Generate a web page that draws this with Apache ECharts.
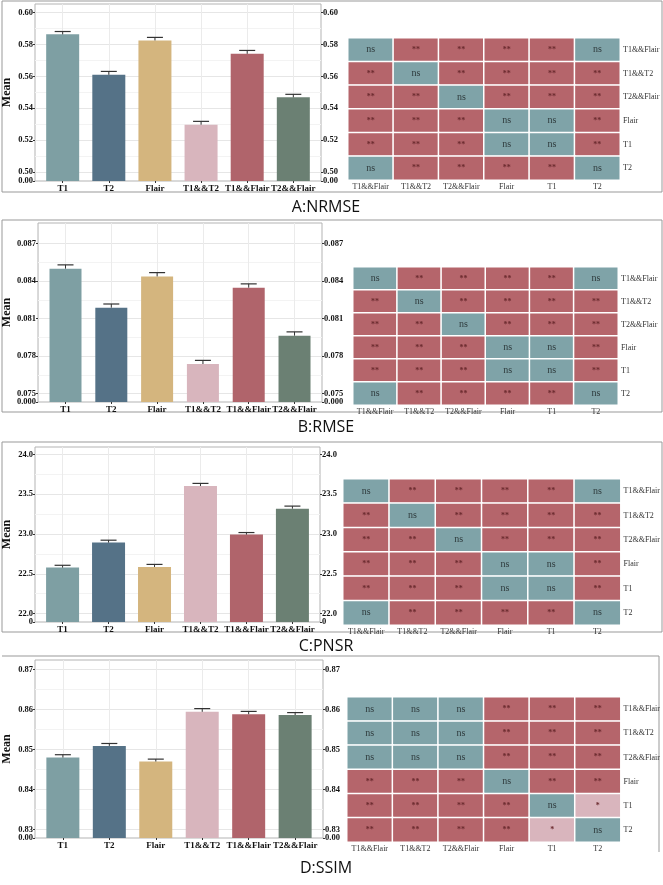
<!DOCTYPE html>
<html>
<head>
<meta charset="utf-8">
<script src="https://cdn.jsdelivr.net/npm/echarts@6.0.0/dist/echarts.min.js"></script>
<style>
html, body { margin: 0; padding: 0; background: #fff; }
#main { width: 663px; height: 885px; }
</style>
</head>
<body>
<div id="main"></div>
<script>
// groups on the bar charts, left to right
var groups = ['T1', 'T2', 'Flair', 'T1&&T2', 'T1&&Flair', 'T2&&Flair'];
var barColors = ['#7e9fa3', '#557287', '#d4b57e', '#d8b5bd', '#b0646b', '#6b8073'];

// A: NRMSE
var nrmseMean = [0.5864, 0.5610, 0.5826, 0.5296, 0.5742, 0.5468];
var nrmseErr = [0.0018, 0.0021, 0.0019, 0.0021, 0.0021, 0.0019];
var nrmseTicks = [0.50, 0.52, 0.54, 0.56, 0.58, 0.60];

// B: RMSE
var rmseMean = [0.08500, 0.08188, 0.08438, 0.07737, 0.08348, 0.07964];
var rmseErr = [0.00030, 0.00029, 0.00030, 0.00029, 0.00030, 0.00030];
var rmseTicks = [0.075, 0.078, 0.081, 0.084, 0.087];

// C: PSNR
var psnrMean = [22.578, 22.892, 22.586, 23.602, 22.992, 23.318];
var psnrErr = [0.029, 0.030, 0.032, 0.033, 0.026, 0.032];
var psnrTicks = [22.0, 22.5, 23.0, 23.5, 24.0];

// D: SSIM
var ssimMean = [0.8480, 0.8509, 0.8470, 0.8594, 0.8588, 0.8586];
var ssimErr = [0.0007, 0.0006, 0.0006, 0.0008, 0.0007, 0.0006];
var ssimTicks = [0.83, 0.84, 0.85, 0.86, 0.87];

// significance matrices: rows top to bottom, columns left to right
var pairOrder = ['T1&&Flair', 'T1&&T2', 'T2&&Flair', 'Flair', 'T1', 'T2'];
var sigLevels = ['ns', '*', '**'];
var sigColors = ['#7fa3a8', '#d9b5bd', '#b5656b'];
var sigNRMSE = [
    ['ns', '**', '**', '**', '**', 'ns'],
    ['**', 'ns', '**', '**', '**', '**'],
    ['**', '**', 'ns', '**', '**', '**'],
    ['**', '**', '**', 'ns', 'ns', '**'],
    ['**', '**', '**', 'ns', 'ns', '**'],
    ['ns', '**', '**', '**', '**', 'ns']
];
var sigRMSE = [
    ['ns', '**', '**', '**', '**', 'ns'],
    ['**', 'ns', '**', '**', '**', '**'],
    ['**', '**', 'ns', '**', '**', '**'],
    ['**', '**', '**', 'ns', 'ns', '**'],
    ['**', '**', '**', 'ns', 'ns', '**'],
    ['ns', '**', '**', '**', '**', 'ns']
];
var sigPSNR = [
    ['ns', '**', '**', '**', '**', 'ns'],
    ['**', 'ns', '**', '**', '**', '**'],
    ['**', '**', 'ns', '**', '**', '**'],
    ['**', '**', '**', 'ns', 'ns', '**'],
    ['**', '**', '**', 'ns', 'ns', '**'],
    ['ns', '**', '**', '**', '**', 'ns']
];
var sigSSIM = [
    ['ns', 'ns', 'ns', '**', '**', '**'],
    ['ns', 'ns', 'ns', '**', '**', '**'],
    ['ns', 'ns', 'ns', '**', '**', '**'],
    ['**', '**', '**', 'ns', '**', '**'],
    ['**', '**', '**', '**', 'ns', '*'],
    ['**', '**', '**', '**', '*', 'ns']
];

var panels = [
    { title: 'A:NRMSE', mean: nrmseMean, err: nrmseErr, ticks: nrmseTicks, dec: 2, zero: '0.00',
      min: 0.4942, max: 0.6055, sig: sigNRMSE,
      bar: { left: 33, top: 4, width: 288, height: 177 },
      hm: { left: 348, top: 38, width: 272, height: 142 },
      frame: [2, 1, 660, 191], titleY: 207 },
    { title: 'B:RMSE', mean: rmseMean, err: rmseErr, ticks: rmseTicks, dec: 3, zero: '0.000',
      min: 0.07433, max: 0.08865, sig: sigRMSE,
      bar: { left: 36, top: 223, width: 286, height: 179 },
      hm: { left: 353, top: 267, width: 265, height: 138 },
      frame: [2, 220, 660, 192], titleY: 427 },
    { title: 'C:PNSR', mean: psnrMean, err: psnrErr, ticks: psnrTicks, dec: 1, zero: '0',
      min: 21.895, max: 24.092, sig: sigPSNR,
      bar: { left: 32, top: 447, width: 288, height: 175 },
      hm: { left: 343, top: 479, width: 278, height: 146 },
      frame: [2, 442, 660, 190], titleY: 646 },
    { title: 'D:SSIM', mean: ssimMean, err: ssimErr, ticks: ssimTicks, dec: 2, zero: '0.00',
      min: 0.82793, max: 0.87232, sig: sigSSIM,
      bar: { left: 32, top: 660, width: 291, height: 178 },
      hm: { left: 347, top: 697, width: 278, height: 145 },
      frame: null, titleY: 868 }
];

var serif = '"Liberation Serif", "Times New Roman", serif';
var grids = [], xAxes = [], yAxes = [], series = [], graphics = [], hmSeries = [];

function tickLabel(extra) {
    return Object.assign({ margin: 2, color: '#111', fontFamily: serif, fontWeight: 'bold',
        fontSize: 8.5, hideOverlap: false, showMinLabel: true, showMaxLabel: true }, extra);
}

panels.forEach(function (p) {
    // ---- bar chart ----
    var g = grids.length;
    grids.push({ left: p.bar.left, top: p.bar.top, width: p.bar.width, height: p.bar.height,
        show: true, borderColor: '#b3b3b3', borderWidth: 1, backgroundColor: '#fff' });
    var xi = xAxes.length;
    var centers = groups.map(function (n, i) { return i; });
    xAxes.push({
        type: 'value', gridIndex: g, min: -0.6, max: groups.length - 0.4,
        axisLine: { show: false, onZero: false },
        axisTick: { show: true, length: 2, lineStyle: { color: '#333' }, customValues: centers },
        axisLabel: { customValues: centers, margin: 3, color: '#111', fontFamily: serif,
            fontWeight: 'bold', fontSize: 9, hideOverlap: false, showMinLabel: true, showMaxLabel: true,
            formatter: function (v) { return groups[Math.round(v)]; } },
        splitLine: { show: true, lineStyle: { color: '#ebebeb', width: 1 } }
    });
    var fmt = function (v) { return v.toFixed(p.dec); };
    var zeroFmt = function () { return p.zero; };
    var base = { type: 'value', gridIndex: g, min: p.min, max: p.max,
        axisLine: { show: false, onZero: false }, splitLine: { show: false } };
    var yl = yAxes.length;
    ['left', 'right'].forEach(function (side) {
        // axis with the real tick labels
        var ax = Object.assign({}, base, { position: side,
            axisTick: { show: true, length: 2, lineStyle: { color: '#333' }, customValues: [p.min].concat(p.ticks) },
            axisLabel: tickLabel({ customValues: p.ticks, formatter: fmt }) });
        if (side === 'left') {
            Object.assign(ax, { name: 'Mean', nameLocation: 'middle', nameGap: 22, nameRotate: 90,
                nameTextStyle: { fontFamily: serif, fontWeight: 'bold', fontSize: 12, color: '#111' } });
        }
        yAxes.push(ax);
    });
    ['left', 'right'].forEach(function (side) {
        // the broken-axis "0" label sitting at the bottom edge
        yAxes.push(Object.assign({}, base, { position: side,
            axisTick: { show: false },
            axisLabel: tickLabel({ customValues: [p.min], formatter: zeroFmt }) }));
    });
    // horizontal grid lines: major ticks and the halves between them
    var gridVals = [];
    p.ticks.forEach(function (t, i) {
        gridVals.push(t);
        if (i < p.ticks.length - 1) gridVals.push((t + p.ticks[i + 1]) / 2);
    });
    yAxes.push(Object.assign({}, base, { position: 'left',
        axisLabel: { show: false },
        axisTick: { show: false, customValues: gridVals },
        splitLine: { show: true, lineStyle: { color: ['#e6e6e6', '#f3f3f3'], width: 1 } } }));
    var band = p.bar.width / (groups.length + 0.2);
    series.push({
        type: 'bar', xAxisIndex: xi, yAxisIndex: yl, barWidth: Math.round(band * 0.7),
        data: p.mean.map(function (m, i) {
            return { value: [i, m], itemStyle: { color: barColors[i] } };
        }),
        z: 2
    });
    series.push({
        type: 'custom', xAxisIndex: xi, yAxisIndex: yl, z: 3,
        data: p.mean.map(function (m, i) { return [i, m, p.err[i]]; }),
        renderItem: function (params, api) {
            var x = api.value(0), y = api.value(1), e = api.value(2);
            var p0 = api.coord([x, y]), p1 = api.coord([x, y + e]);
            var w = 8;
            return { type: 'group', children: [
                { type: 'line', shape: { x1: p0[0], y1: p0[1], x2: p1[0], y2: p1[1] },
                  style: { stroke: '#333', lineWidth: 1 } },
                { type: 'line', shape: { x1: p1[0] - w, y1: p1[1], x2: p1[0] + w, y2: p1[1] },
                  style: { stroke: '#333', lineWidth: 1.2 } }
            ] };
        }
    });

    // ---- significance heatmap ----
    var h = grids.length;
    grids.push({ left: p.hm.left, top: p.hm.top, width: p.hm.width, height: p.hm.height });
    var hx = xAxes.length;
    xAxes.push({
        type: 'category', gridIndex: h, data: pairOrder,
        axisLine: { show: false, onZero: false }, axisTick: { show: false }, splitLine: { show: false },
        axisLabel: { interval: 0, hideOverlap: false, margin: 3, color: '#333', fontFamily: serif, fontSize: 8 }
    });
    var hy = yAxes.length;
    yAxes.push({
        type: 'category', gridIndex: h, data: pairOrder, inverse: true, position: 'right',
        axisLine: { show: false, onZero: false }, axisTick: { show: false }, splitLine: { show: false },
        axisLabel: { interval: 0, hideOverlap: false, margin: 3, color: '#333', fontFamily: serif, fontSize: 8 }
    });
    var cells = [];
    p.sig.forEach(function (row, r) {
        row.forEach(function (s, c) { cells.push([c, r, sigLevels.indexOf(s)]); });
    });
    hmSeries.push(series.length);
    series.push({
        type: 'heatmap', xAxisIndex: hx, yAxisIndex: hy, data: cells,
        itemStyle: { borderColor: '#fff', borderWidth: 1.5 },
        label: {
            show: true,
            formatter: function (d) {
                var t = sigLevels[d.value[2]];
                return t === 'ns' ? '{ns|ns}' : '{st|' + t + '}';
            },
            rich: {
                ns: { fontFamily: serif, fontSize: 10, color: '#2f3b3d' },
                st: { fontFamily: serif, fontSize: 8, fontWeight: 'bold', color: '#6a2a2e' }
            }
        },
        emphasis: { disabled: true }
    });

    // ---- frame and title ----
    if (p.frame) {
        graphics.push({ type: 'rect', shape: { x: p.frame[0], y: p.frame[1], width: p.frame[2], height: p.frame[3] },
            style: { fill: 'none', stroke: '#999', lineWidth: 1 }, silent: true });
    }
    graphics.push({ type: 'text', x: 326, y: p.titleY,
        style: { text: p.title, font: '16px "Open Sans", "Noto Sans", sans-serif', fill: '#111',
            textAlign: 'center', textVerticalAlign: 'middle', align: 'center', verticalAlign: 'middle' },
        silent: true });
});
graphics.push({ type: 'polyline', shape: { points: [[2, 656], [659, 656], [659, 852]] },
    style: { fill: 'none', stroke: '#999', lineWidth: 1 }, silent: true });

var myChart = echarts.init(document.getElementById('main'));
myChart.setOption({
    backgroundColor: '#fff',
    animation: false,
    grid: grids,
    xAxis: xAxes,
    yAxis: yAxes,
    visualMap: {
        type: 'piecewise', show: false, seriesIndex: hmSeries, dimension: 2,
        pieces: sigLevels.map(function (s, i) { return { value: i, color: sigColors[i] }; })
    },
    graphic: graphics,
    series: series
});
</script>
</body>
</html>
